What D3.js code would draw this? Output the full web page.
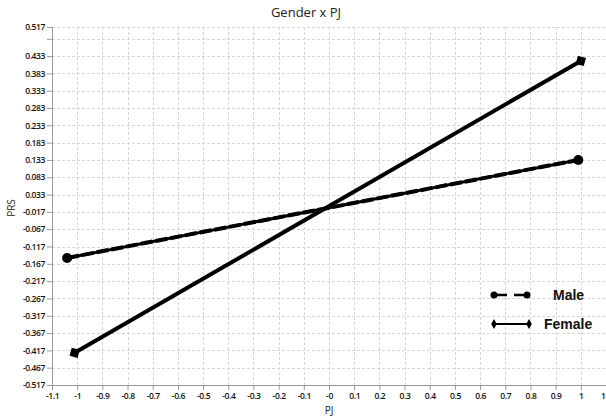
<!DOCTYPE html>
<html>
<head>
<meta charset="utf-8">
<script src="https://cdn.jsdelivr.net/npm/d3@7"></script>
<style>
body { margin: 0; background: #fff; }
svg { display: block; }
</style>
</head>
<body>
<svg id="chart" width="606" height="418"></svg>
<script>
// ---- data ----
const seriesNames = ["Male", "Female"];
const maleX = [-1.04, 0.99];
const maleY = [-0.150, 0.133];
const femaleX = [-1.01, 1.0];
const femaleY = [-0.424, 0.419];
const xTickValues = [-1.1, -1, -0.9, -0.8, -0.7, -0.6, -0.5, -0.4, -0.3, -0.2, -0.1, 0, 0.1, 0.2, 0.3, 0.4, 0.5, 0.6, 0.7, 0.8, 0.9, 1, 1.1];
const xTickLabels = ["-1.1", "-1", "-0.9", "-0.8", "-0.7", "-0.6", "-0.5", "-0.4", "-0.3", "-0.2", "-0.1", "-0", "0.1", "0.2", "0.3", "0.4", "0.5", "0.6", "0.7", "0.8", "0.9", "1", "1.1"];
const yTickValues = [0.517, 0.483, 0.433, 0.383, 0.333, 0.283, 0.233, 0.183, 0.133, 0.083, 0.033, -0.017, -0.067, -0.117, -0.167, -0.217, -0.267, -0.317, -0.367, -0.417, -0.467, -0.517];
const yTickLabels = ["0.517", "", "0.433", "0.383", "0.333", "0.283", "0.233", "0.183", "0.133", "0.083", "0.033", "-0.017", "-0.067", "-0.117", "-0.167", "-0.217", "-0.267", "-0.317", "-0.367", "-0.417", "-0.467", "-0.517"];

(function () {
// ---- layout ----
const svg = d3.select("#chart");
const mLeft = 52, mRight = 606, mTop = 27, mBottom = 385;
const x = d3.scaleLinear().domain([-1.1, 1.1]).range([mLeft, mRight]);
const y = d3.scaleLinear().domain([-0.517, 0.517]).range([mBottom, mTop]);
const tickFont = "'Open Sans', sans-serif";

// grid
const grid = svg.append("g").attr("stroke", "#d6d6d6").attr("stroke-width", 1).attr("stroke-dasharray", "3,2");
grid.selectAll("line.gx").data(xTickValues.slice(1)).join("line")
  .attr("x1", d => Math.round(x(d)) + 0.5).attr("x2", d => Math.round(x(d)) + 0.5)
  .attr("y1", mTop).attr("y2", mBottom);
grid.selectAll("line.gy").data(yTickValues.slice(0, -1)).join("line")
  .attr("x1", mLeft).attr("x2", mRight)
  .attr("y1", d => Math.round(y(d)) + 0.5).attr("y2", d => Math.round(y(d)) + 0.5);

// axes
const xAxis = d3.axisBottom(x).tickValues(xTickValues).tickSize(5).tickPadding(3)
  .tickFormat((d, i) => xTickLabels[i]);
const yAxis = d3.axisLeft(y).tickValues(yTickValues).tickSize(5).tickPadding(2)
  .tickFormat((d, i) => yTickLabels[i]);

const gx = svg.append("g").attr("transform", `translate(0,${mBottom})`).call(xAxis);
const gy = svg.append("g").attr("transform", `translate(${mLeft},0)`).call(yAxis);
[gx, gy].forEach(g => {
  g.select(".domain").attr("stroke", "#999");
  g.selectAll(".tick line").attr("stroke", "#999");
  g.selectAll(".tick text").attr("fill", "#111").attr("font-family", tickFont)
    .attr("font-size", 8.5).attr("font-weight", 600).attr("letter-spacing", "-0.4px");
});

// titles
svg.append("text").attr("x", 306).attr("y", 17).attr("text-anchor", "middle")
  .attr("font-family", tickFont).attr("font-size", 13).attr("fill", "#222").text("Gender x PJ");
svg.append("text").attr("transform", `translate(15,208) rotate(-90)`).attr("text-anchor", "middle")
  .attr("font-family", tickFont).attr("font-size", 10).attr("fill", "#222").text("PRS");
svg.append("text").attr("x", 329).attr("y", 414).attr("text-anchor", "middle")
  .attr("font-family", tickFont).attr("font-size", 10).attr("fill", "#222").text("PJ");

// series
const line = d3.line().x(d => x(d[0])).y(d => y(d[1]));
const maleData = maleX.map((v, i) => [v, maleY[i]]);
const femaleData = femaleX.map((v, i) => [v, femaleY[i]]);

svg.append("path").datum(maleData).attr("d", line).attr("fill", "none")
  .attr("stroke", "#000").attr("stroke-width", 3);
svg.append("path").datum(maleData).attr("d", line).attr("fill", "none")
  .attr("stroke", "#000").attr("stroke-width", 4).attr("stroke-dasharray", "12,3");
svg.selectAll("circle.male").data(maleData).join("circle")
  .attr("cx", d => x(d[0])).attr("cy", d => y(d[1])).attr("r", 5).attr("fill", "#000");

svg.append("path").datum(femaleData).attr("d", line).attr("fill", "none")
  .attr("stroke", "#000").attr("stroke-width", 4);
const fAngle = Math.atan2(y(femaleData[1][1]) - y(femaleData[0][1]), x(femaleData[1][0]) - x(femaleData[0][0])) * 180 / Math.PI;
svg.selectAll("path.fem").data(femaleData).join("path")
  .attr("d", d3.symbol(d3.symbolSquare, 70))
  .attr("transform", d => `translate(${x(d[0])},${y(d[1])}) rotate(${fAngle + 45})`)
  .attr("fill", "#000");

// legend
const lg = svg.append("g");
lg.append("line").attr("x1", 494).attr("x2", 527).attr("y1", 295).attr("y2", 295)
  .attr("stroke", "#000").attr("stroke-width", 2.5).attr("stroke-dasharray", "13,7");
lg.selectAll("circle").data([494, 527]).join("circle")
  .attr("cx", d => d).attr("cy", 295).attr("r", 3.5).attr("fill", "#000");
lg.append("text").attr("x", 553).attr("y", 300).attr("font-family", "'Liberation Sans', Arial, sans-serif")
  .attr("font-weight", "bold").attr("font-size", 14).attr("fill", "#111").text(seriesNames[0]);
lg.append("line").attr("x1", 494).attr("x2", 529).attr("y1", 324).attr("y2", 324)
  .attr("stroke", "#000").attr("stroke-width", 2);
lg.selectAll("path.ld").data([494, 529]).join("path")
  .attr("d", d3.symbol(d3.symbolDiamond, 28))
  .attr("transform", d => `translate(${d},324)`).attr("fill", "#000");
lg.append("text").attr("x", 544).attr("y", 329).attr("font-family", "'Liberation Sans', Arial, sans-serif")
  .attr("font-weight", "bold").attr("font-size", 14).attr("fill", "#111").text(seriesNames[1]);
})();
</script>
</body>
</html>
